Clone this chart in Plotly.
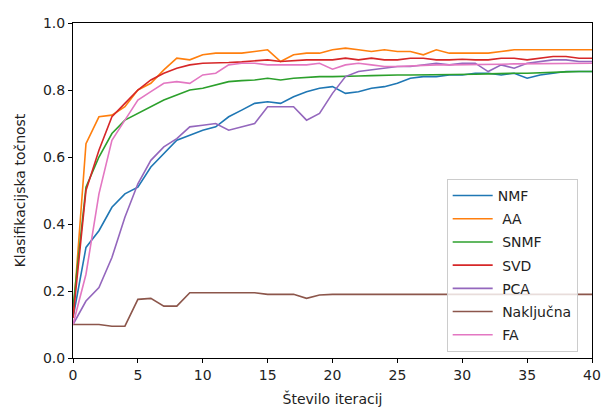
import plotly.graph_objects as go

iterations = list(range(41))

nmf = [0.12, 0.33, 0.38, 0.45, 0.49, 0.51, 0.57, 0.61, 0.65, 0.665, 0.68,
       0.69, 0.72, 0.74, 0.76, 0.765, 0.76, 0.78, 0.795, 0.805, 0.81,
       0.79, 0.795, 0.805, 0.81, 0.82, 0.835, 0.84, 0.84, 0.845, 0.845,
       0.85, 0.85, 0.845, 0.85, 0.835, 0.845, 0.85, 0.855, 0.855, 0.855]
aa = [0.12, 0.64, 0.72, 0.725, 0.75, 0.80, 0.82, 0.86, 0.895, 0.89, 0.905,
      0.91, 0.91, 0.91, 0.915, 0.92, 0.885, 0.905, 0.91, 0.91, 0.92,
      0.925, 0.92, 0.915, 0.92, 0.915, 0.915, 0.905, 0.92, 0.91, 0.91,
      0.91, 0.91, 0.915, 0.92, 0.92, 0.92, 0.92, 0.92, 0.92, 0.92]
snmf = [0.15, 0.51, 0.60, 0.67, 0.71, 0.73, 0.75, 0.77, 0.785, 0.80, 0.805,
        0.815, 0.825, 0.828, 0.83, 0.835, 0.83, 0.835, 0.838, 0.84, 0.84,
        0.84, 0.842, 0.843, 0.845, 0.845, 0.845, 0.845, 0.845, 0.845, 0.845,
        0.847, 0.848, 0.85, 0.85, 0.85, 0.852, 0.853, 0.854, 0.855, 0.855]
svd = [0.12, 0.50, 0.62, 0.72, 0.76, 0.80, 0.83, 0.85, 0.865, 0.875, 0.88,
       0.88, 0.882, 0.884, 0.886, 0.89, 0.885, 0.888, 0.89, 0.89, 0.89,
       0.895, 0.89, 0.895, 0.89, 0.89, 0.895, 0.895, 0.89, 0.89, 0.892,
       0.89, 0.89, 0.895, 0.895, 0.89, 0.895, 0.9, 0.9, 0.895, 0.895]
pca = [0.10, 0.17, 0.21, 0.30, 0.42, 0.52, 0.59, 0.63, 0.655, 0.69, 0.695,
       0.70, 0.68, 0.69, 0.70, 0.75, 0.75, 0.75, 0.71, 0.73, 0.79,
       0.84, 0.855, 0.86, 0.865, 0.87, 0.87, 0.875, 0.88, 0.875, 0.88,
       0.88, 0.855, 0.875, 0.865, 0.88, 0.885, 0.89, 0.89, 0.885, 0.885]
nakljucna = [0.10, 0.10, 0.10, 0.095, 0.095, 0.175, 0.178, 0.155, 0.155, 0.195, 0.195,
             0.195, 0.195, 0.195, 0.195, 0.19, 0.19, 0.19, 0.178, 0.188, 0.19,
             0.19, 0.19, 0.19, 0.19, 0.19, 0.188, 0.188, 0.19, 0.19, 0.19,
             0.19, 0.19, 0.19, 0.19, 0.19, 0.19, 0.19, 0.19, 0.19, 0.19]
fa = [0.10, 0.25, 0.49, 0.65, 0.71, 0.77, 0.795, 0.82, 0.825, 0.82, 0.845,
      0.85, 0.875, 0.88, 0.88, 0.875, 0.875, 0.875, 0.875, 0.88, 0.862,
      0.875, 0.88, 0.875, 0.87, 0.87, 0.872, 0.875, 0.875, 0.875, 0.875,
      0.875, 0.875, 0.877, 0.878, 0.878, 0.88, 0.88, 0.88, 0.88, 0.88]

series = [
    ("NMF", nmf, "#1f77b4"),
    ("\u00a0AA", aa, "#ff7f0e"),
    ("\u00a0SNMF", snmf, "#2ca02c"),
    ("\u00a0SVD", svd, "#d62728"),
    ("\u00a0PCA", pca, "#9467bd"),
    ("\u00a0Naključna", nakljucna, "#8c564b"),
    ("\u00a0FA", fa, "#e377c2"),
]

fig = go.Figure()
for name, vals, color in series:
    fig.add_trace(go.Scatter(x=iterations, y=vals, mode="lines", name=name,
                             legendgroup=name,
                             line=dict(color=color, width=1.6)))

axis_common = dict(showgrid=False, zeroline=False, showline=True, linecolor="black",
                   linewidth=1, mirror=True, ticks="outside", ticklen=4,
                   tickcolor="black", tickfont=dict(size=14, color="#222222"),
                   automargin=False)

fig.update_layout(
    width=602, height=409,
    margin=dict(l=73, r=10, t=23, b=51),
    plot_bgcolor="white", paper_bgcolor="white",
    font=dict(family="DejaVu Sans", size=14, color="#222222"),
    xaxis=dict(range=[0, 40], tickvals=[0, 5, 10, 15, 20, 25, 30, 35, 40],
               title=dict(text="Število iteracij", standoff=12, font=dict(size=14)),
               **axis_common),
    yaxis=dict(range=[0, 1], tickvals=[0, 0.2, 0.4, 0.6, 0.8, 1.0], tickformat=".1f",
               title=dict(text="Klasifikacijska točnost", standoff=14, font=dict(size=14)),
               **axis_common),
    legend=dict(x=0.72, y=0.018, xanchor="left", yanchor="bottom",
                bgcolor="rgba(255,255,255,0.8)", bordercolor="#cccccc", borderwidth=1,
                font=dict(size=14), tracegroupgap=2, itemwidth=40),
    showlegend=True,
)

fig.write_html("out.html")
